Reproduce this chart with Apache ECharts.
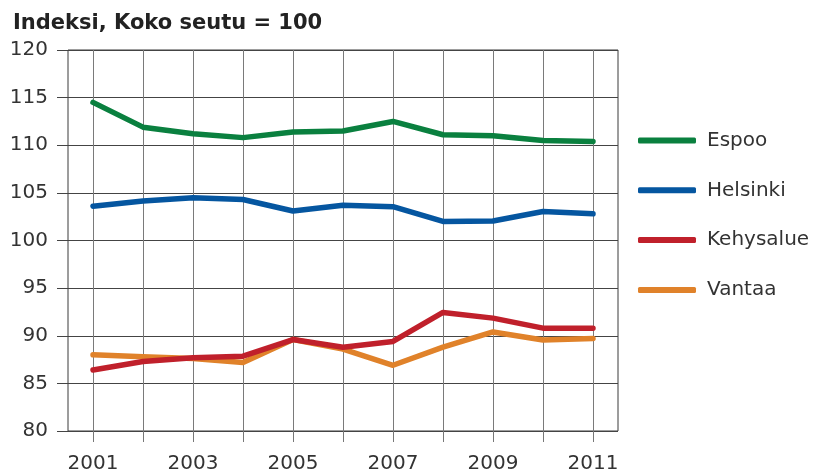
<!DOCTYPE html>
<html>
<head>
<meta charset="utf-8">
<script src="https://cdn.jsdelivr.net/npm/echarts@6/dist/echarts.min.js"></script>
<style>
html,body{margin:0;padding:0;background:#fff;}
#chart{width:818px;height:474px;}
</style>
</head>
<body>
<div id="chart"></div>
<script>
var titleText = 'Indeksi, Koko seutu = 100';
var years = ['2001','2002','2003','2004','2005','2006','2007','2008','2009','2010','2011'];
var espoo     = [114.5, 111.9, 111.2, 110.8, 111.4, 111.5, 112.5, 111.1, 111.0, 110.5, 110.4];
var helsinki  = [103.6, 104.15, 104.5, 104.3, 103.1, 103.7, 103.55, 102.0, 102.05, 103.05, 102.8];
var kehysalue = [86.4, 87.3, 87.7, 87.85, 89.6, 88.8, 89.4, 92.45, 91.85, 90.8, 90.8];
var vantaa    = [88.0, 87.8, 87.6, 87.2, 89.6, 88.6, 86.9, 88.8, 90.4, 89.55, 89.7];
var seriesNames = ['Espoo','Helsinki','Kehysalue','Vantaa'];
var seriesData = [espoo, helsinki, kehysalue, vantaa];
var colors = ['#0a803f','#0556a0','#c0202b','#e0822a'];

var font = 'DejaVu Sans';
var chart = echarts.init(document.getElementById('chart'), null, {renderer:'canvas'});
chart.setOption({
  animation:false,
  backgroundColor:'#ffffff',
  title:{
    text:titleText, left:8, top:8,
    textStyle:{fontFamily:font, fontSize:21, fontWeight:'bold', color:'#222'}
  },
  legend:{
    orient:'vertical', left:633, top:125.5,
    itemWidth:58, itemHeight:6, itemGap:29.8, icon:'roundRect',
    textStyle:{fontFamily:font, fontSize:20, color:'#333', lineHeight:20, padding:[0,0,0,6]},
    data:seriesNames
  },
  grid:{
    left:68, right:200, top:50, bottom:42,
    show:true, borderColor:'#3a3a3a', borderWidth:1, backgroundColor:'transparent'
  },
  xAxis:{
    type:'category', data:years, boundaryGap:true,
    axisLine:{show:false},
    axisTick:{show:true, alignWithLabel:true, interval:0, length:11, lineStyle:{color:'#777'}},
    axisLabel:{interval:1, margin:23, fontFamily:font, fontSize:20, color:'#333'},
    splitLine:{show:true, alignWithLabel:true, interval:0, lineStyle:{color:'#7a7a7a', width:1}}
  },
  yAxis:{
    type:'value', min:80, max:120, interval:5,
    axisLine:{show:false},
    axisTick:{show:true, length:11, lineStyle:{color:'#444'}},
    axisLabel:{margin:20, fontFamily:font, fontSize:20, color:'#333'},
    splitLine:{show:true, lineStyle:{color:'#444', width:1}}
  },
  series: seriesNames.map(function(n,i){
    return {
      name:n, type:'line', data:seriesData[i], symbol:'none',
      color:colors[i],
      lineStyle:{width:5.5, color:colors[i], cap:'round', join:'round'},
      z: 10 - i
    };
  })
});
</script>
</body>
</html>
